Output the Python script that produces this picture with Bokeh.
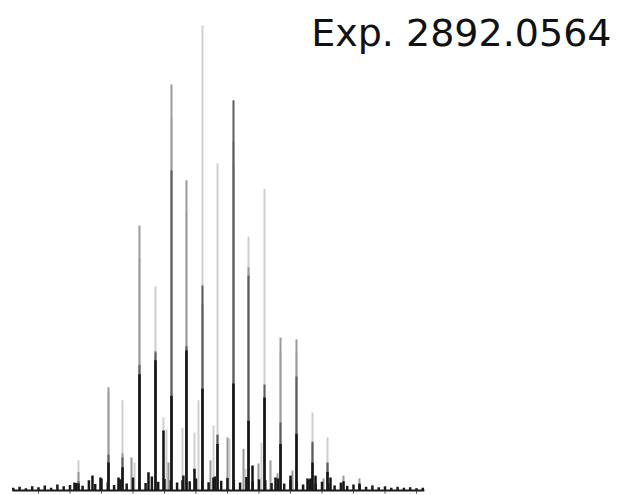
from bokeh.plotting import figure
from bokeh.models import Range1d, Label, ColumnDataSource
from bokeh.embed import file_html
from bokeh.resources import INLINE

# Axis ticks (m/z) and the extent of the m/z axis line
tick_mz = [1444, 1445, 1446, 1447, 1448, 1449, 1450, 1451, 1452, 1453, 1454, 1455, 1456]
axis_start, axis_end = 1443.17, 1456.25

# Stick peaks (m/z) and their relative intensities (%) in four overlaid traces
peak_mz = [1445.143, 1445.270, 1445.714, 1445.968, 1446.222, 1446.540, 1446.667, 1446.952,
           1447.048, 1447.206, 1447.492, 1447.714, 1447.968, 1448.063, 1448.127, 1448.222,
           1448.571, 1448.698, 1448.952, 1449.079, 1449.206, 1449.460, 1449.556, 1449.683,
           1450.000, 1450.063, 1450.190, 1450.508, 1450.571, 1450.667, 1450.794, 1450.984,
           1451.079, 1451.175, 1451.365, 1451.524, 1451.587, 1451.683, 1452.000, 1452.063,
           1452.190, 1452.540, 1452.635, 1452.698, 1452.794, 1453.048, 1453.175, 1453.270,
           1453.683, 1454.190]
light_int = [0, 6.5, 0, 0, 21.0, 0, 19.4, 0,
             6.0, 50.0, 0, 43.9, 15.7, 13.1, 0, 80.0,
             13.5, 60.0, 12.5, 19.4, 100.0, 0, 14.0, 70.3,
             0, 11.2, 70.0, 0, 4.7, 54.6, 0, 0,
             10.3, 64.9, 0, 0, 0, 30.0, 0, 0,
             30.0, 0, 0, 16.8, 0, 0, 11.4, 0,
             0, 0]
mid_int = [0, 4.0, 0, 0, 22.2, 0, 8.0, 7.1,
           0, 57.0, 0, 30.0, 0, 0, 6.0, 87.3,
           0, 66.7, 0, 0, 40.0, 6.5, 0, 12.0,
           11.4, 0, 75.0, 9.0, 0, 48.0, 0, 5.8,
           0, 20.0, 6.5, 0, 3.7, 32.9, 0, 4.3,
           32.5, 0, 0, 10.0, 0, 2.6, 6.0, 0,
           3.2, 2.6]
dark_int = [0, 2.0, 0, 0, 7.7, 0, 7.1, 0,
            0, 27.0, 0, 29.7, 0, 0, 0, 68.8,
            0, 31.0, 0, 0, 44.1, 0, 0, 12.0,
            0, 0, 83.9, 0, 0, 46.2, 0, 0,
            0, 22.8, 0, 0, 0, 14.6, 0, 0,
            24.5, 0, 0, 10.5, 0, 0, 6.0, 0,
            0, 0]
black_int = [1.7, 1.5, 3.2, 2.8, 6.0, 2.8, 5.0, 0,
             0, 25.0, 3.9, 28.0, 12.9, 0, 0, 20.4,
             2.2, 30.1, 4.7, 0, 21.9, 0, 2.8, 10.0,
             0, 0, 23.0, 0, 0, 15.0, 5.4, 0,
             0, 20.0, 0, 2.8, 0, 10.0, 3.2, 0,
             12.2, 2.6, 2.6, 6.0, 3.2, 0, 4.0, 2.8,
             2.0, 1.5]

# Baseline noise
noise_mz = [1443.2, 1443.4, 1443.6, 1443.8, 1444.0, 1444.2, 1444.4, 1444.6, 1444.8, 1445.0,
            1445.2, 1445.4, 1445.6, 1445.8, 1446.0, 1446.2, 1446.4, 1446.6, 1446.8, 1447.0,
            1447.2, 1447.4, 1447.6, 1447.8, 1448.0, 1448.2, 1448.4, 1448.6, 1448.8, 1449.0,
            1449.2, 1449.4, 1449.6, 1449.8, 1450.0, 1450.2, 1450.4, 1450.6, 1450.8, 1451.0,
            1451.2, 1451.4, 1451.6, 1451.8, 1452.0, 1452.2, 1452.4, 1452.6, 1452.8, 1453.0,
            1453.2, 1453.4, 1453.6, 1453.8, 1454.0, 1454.2, 1454.4, 1454.6, 1454.8, 1455.0,
            1455.2, 1455.4, 1455.6, 1455.8, 1456.0, 1456.2]
noise_int = [0.6, 0.8, 0.5, 0.9, 0.7, 1.1, 0.6, 1.3, 0.9, 1.2,
             1.6, 1.0, 2.2, 1.4, 2.6, 1.8, 1.2, 2.4, 1.5, 2.8,
             2.0, 1.6, 3.0, 1.9, 2.5, 2.2, 1.7, 3.2, 2.0, 2.6,
             2.4, 1.8, 3.0, 2.1, 2.7, 2.3, 1.7, 2.9, 2.0, 2.4,
             2.2, 1.6, 2.6, 1.5, 2.2, 1.9, 1.3, 2.3, 1.5, 1.9,
             1.6, 1.1, 1.7, 1.0, 1.3, 1.2, 0.8, 1.1, 0.7, 0.9,
             0.6, 0.8, 0.6, 0.7, 0.5, 0.6]

title_text = "Exp. 2892.0564"

# tick mark length in intensity units (about 3 px)
TICK_LEN = 0.65

src = ColumnDataSource(dict(mz=peak_mz, light=light_int, mid=mid_int,
                            dark=dark_int, black=black_int, base=[0] * len(peak_mz)))
noise_src = ColumnDataSource(dict(mz=noise_mz, h=noise_int, base=[0] * len(noise_mz)))
tick_src = ColumnDataSource(dict(mz=tick_mz, y0=[0] * len(tick_mz), y1=[-TICK_LEN] * len(tick_mz)))

p = figure(width=618, height=495, output_backend="svg", toolbar_location=None,
           x_range=Range1d(1442.794, 1462.413), y_range=Range1d(-1.075, 105.376),
           min_border_left=0, min_border_right=0, min_border_top=0, min_border_bottom=0,
           x_axis_location=None, y_axis_location=None)
p.outline_line_color = None
p.xgrid.visible = False
p.ygrid.visible = False
p.background_fill_color = "white"
p.border_fill_color = "white"

# overlaid traces, lightest first
p.segment(x0="mz", y0="base", x1="mz", y1="light", source=src, line_color="#cfcfcf", line_width=2)
p.segment(x0="mz", y0="base", x1="mz", y1="mid", source=src, line_color="#9a9a9a", line_width=2)
p.segment(x0="mz", y0="base", x1="mz", y1="dark", source=src, line_color="#5e5e5e", line_width=2)
p.segment(x0="mz", y0="base", x1="mz", y1="black", source=src, line_color="#141414", line_width=2.5)
p.segment(x0="mz", y0="base", x1="mz", y1="h", source=noise_src, line_color="#1a1a1a", line_width=2.5)

# m/z axis: baseline and downward ticks
p.segment(x0=[axis_start], y0=[0], x1=[axis_end], y1=[0], line_color="#1a1a1a", line_width=2)
p.segment(x0="mz", y0="y0", x1="mz", y1="y1", source=tick_src, line_color="#444444", line_width=1)

p.add_layout(Label(x=611, y=463, x_units="screen", y_units="screen", text=title_text,
                   text_font="DejaVu Sans", text_font_size="38px", text_color="#111111",
                   text_align="right", text_baseline="alphabetic"))

open("out.html", "w").write(file_html(p, INLINE))
